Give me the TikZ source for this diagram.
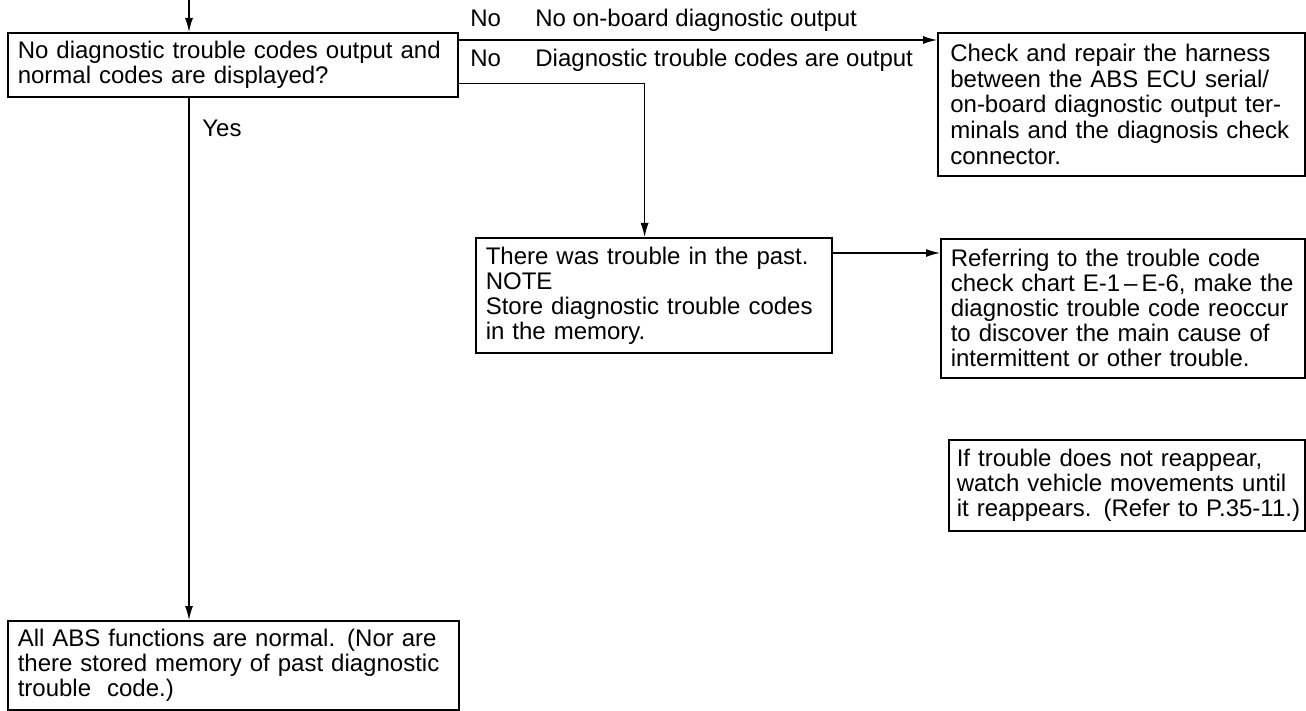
\documentclass[tikz,border=0pt]{standalone}
\usepackage{fontspec}
\setmainfont{Liberation Sans}
\usetikzlibrary{arrows.meta,calc}
\newcommand\jline[2]{\makebox[#1][s]{#2}}
\begin{document}
\begin{tikzpicture}[x=0.5pt,y=-0.5pt,
  box/.style={draw,line width=0.8pt,anchor=north west,inner sep=0pt,
    font=\fontsize{12}{12.5}\selectfont,align=left},
  arr/.style={line width=0.6pt,-{Latex[length=7pt,width=4pt]}},
  lbl/.style={font=\fontsize{12}{12.5}\selectfont,inner sep=0pt,anchor=base west}]
\useasboundingbox[fill=white] (0,0) rectangle (1306,711);

\node[box,minimum width=225pt,minimum height=32pt,text width=215pt] (q) at (7,32)
  {\jline{215pt}{No diagnostic trouble codes output and}\\
   \jline{156.5pt}{normal codes are displayed?}};

\node[box,minimum width=183.5pt,minimum height=71.5pt,text width=171pt,
      font=\fontsize{12}{12.8}\selectfont] (chk) at (937,32)
  {\jline{171pt}{Check and repair the harness}\\
   \jline{171pt}{between the ABS ECU serial/}\\
   \jline{171pt}{on-board diagnostic output ter-}\\
   \jline{171pt}{minals and the diagnosis check}\\
   connector.};

\node[box,minimum width=178pt,minimum height=57.5pt,text width=168pt] (there) at (475,237)
  {There was trouble in the past.\\
   NOTE\\
   Store diagnostic trouble codes\\
   in the memory.};

\node[box,minimum width=182pt,minimum height=69.5pt,text width=172pt] (ref) at (940,238)
  {\jline{172pt}{Referring to the trouble code}\\
   \jline{172pt}{check chart E-1\,–\,E-6, make the}\\
   \jline{172pt}{diagnostic trouble code reoccur}\\
   \jline{172pt}{to discover the main cause of}\\
   intermittent or other trouble.};

\node[box,minimum width=178pt,minimum height=45.5pt,text width=170pt] (iftr) at (948,439)
  {\jline{170pt}{If trouble does not reappear,}\\
   \jline{170pt}{watch vehicle movements until}\\
   \jline{170pt}{it reappears. (Refer to P.35-11.)}};

\node[box,minimum width=225.5pt,minimum height=44.5pt,text width=215.5pt] (all) at (7,620)
  {\jline{215.5pt}{All ABS functions are normal. (Nor are}\\
   \jline{215.5pt}{there stored memory of past diagnostic}\\
   trouble\ \ code.)};

\node[lbl] (no1) at (470,27) {No};
\node[lbl] (d1) at (535,27) {No on-board diagnostic output};
\node[lbl] (no2) at (470,67) {No};
\node[lbl] (d2) at (535,67) {Diagnostic trouble codes are output};
\node[lbl] (yes) at (202,137) {Yes};

\coordinate (top) at (189,0);
\draw[arr] (top) -- (top |- q.north);
\draw[arr] ($(q.north east)+(0,8)$) coordinate (a1) -- (a1 -| chk.west);
\draw[arr] ($(q.south east)+(0,-14)$) -- ++(186,0) coordinate (b1) -- (b1 |- there.north);
\draw[arr] ($(there.north east)+(0,16)$) coordinate (a3) -- (a3 -| ref.west);
\draw[arr] (top |- q.south) -- (top |- all.north);
\end{tikzpicture}
\end{document}
